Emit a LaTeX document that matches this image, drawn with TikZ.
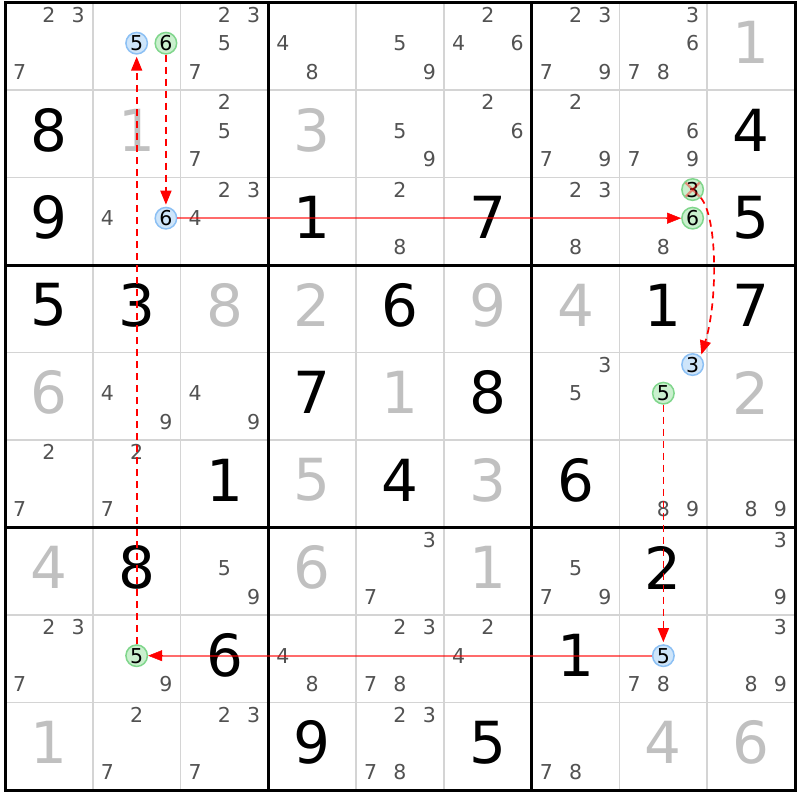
\documentclass[tikz,border=0pt]{standalone}
\usepackage{fontspec}
\setmainfont{DejaVu Sans}
\usetikzlibrary{arrows.meta,calc}
\definecolor{givengray}{RGB}{192,192,192}
\definecolor{candgray}{RGB}{82,82,82}
\definecolor{thingrid}{RGB}{212,212,212}
\definecolor{bluefill}{RGB}{206,229,250}
\definecolor{blueline}{RGB}{140,192,244}
\definecolor{greenfill}{RGB}{202,240,206}
\definecolor{greenline}{RGB}{128,214,140}
\definecolor{linkred}{RGB}{255,0,0}
\begin{document}
\begin{tikzpicture}[x=1pt,y=-1pt,
  thinline/.style={draw=thingrid, line width=1.6pt},
  thickline/.style={draw=black, line width=3pt},
  cand/.style={inner sep=0pt, text=candgray, font=\fontsize{20.5}{24}\selectfont},
  bigdigit/.style={inner sep=0pt, font=\fontsize{58}{64}\selectfont},
  givendigit/.style={bigdigit, text=givengray},
  solveddigit/.style={bigdigit, text=black},
  circbase/.style={circle, inner sep=0pt, minimum size=21.5pt, line width=1.5pt, text=black, font=\fontsize{20.5}{24}\selectfont},
  bluec/.style={circbase, draw=blueline, fill=bluefill},
  greenc/.style={circbase, draw=greenline, fill=greenfill},
  dashlink/.style={draw=linkred, line width=1.7pt, dash pattern=on 7pt off 5pt, shorten >=2pt, -{Triangle[length=14pt,width=11pt,fill=linkred]}},
  solidlink/.style={draw=linkred, draw opacity=0.58, line width=2.2pt, shorten >=6pt},
  solidtip/.style={draw=linkred, line width=0.5pt, -{Triangle[length=14pt,width=11pt,fill=linkred]}},
  crossline/.style={draw=linkred, draw opacity=0.4, line width=2.2pt}
]
\useasboundingbox (0,0) rectangle (800,800);
\fill[white] (0,0) rectangle (800,800);

% thin grid lines
\foreach \i in {1,2,4,5,7,8}{
  \draw[thinline] ({5+87.78*\i},2.5) -- ({5+87.78*\i},790);
  \draw[thinline] (5,{2.5+87.5*\i}) -- (795,{2.5+87.5*\i});
}
% thick grid lines
\foreach \i in {3,6}{
  \draw[thickline] ({5+87.78*\i},2.5) -- ({5+87.78*\i},790);
  \draw[thickline] (5,{2.5+87.5*\i}) -- (795,{2.5+87.5*\i});
}
\draw[thickline] (5,2.5) rectangle (795,790);

% candidates
\foreach \r/\c/\ds in {
  1/1/{2,3,7}, 1/3/{2,3,5,7}, 1/4/{4,8}, 1/5/{5,9}, 1/6/{2,4,6}, 1/7/{2,3,7,9}, 1/8/{3,6,7,8},
  2/3/{2,5,7}, 2/5/{5,9}, 2/6/{2,6}, 2/7/{2,7,9}, 2/8/{6,7,9},
  3/2/{4}, 3/3/{2,3,4}, 3/5/{2,8}, 3/7/{2,3,8}, 3/8/{8},
  5/2/{4,9}, 5/3/{4,9}, 5/7/{3,5},
  6/1/{2,7}, 6/2/{2,7}, 6/8/{8,9}, 6/9/{8,9},
  7/3/{5,9}, 7/5/{3,7}, 7/7/{5,7,9}, 7/9/{3,9},
  8/1/{2,3,7}, 8/2/{9}, 8/4/{4,8}, 8/5/{2,3,7,8}, 8/6/{2,4}, 8/8/{7,8}, 8/9/{3,8,9},
  9/2/{2,7}, 9/3/{2,3,7}, 9/5/{2,3,7,8}, 9/7/{7,8}}{
  \foreach \d in \ds {
    \pgfmathsetmacro\px{5+87.78*(\c-1+(2*mod(\d-1,3)+1)/6)}
    \pgfmathsetmacro\py{2.5+87.5*(\r-1+0.138+0.327*floor((\d-1)/3))}
    \node[cand] (k\r\c\d) at (\px,\py) {\d};
  }
}

% given digits (gray)
\foreach \r/\c/\v in {1/9/1, 2/2/1, 2/4/3, 4/3/8, 4/4/2, 4/6/9, 4/7/4, 5/1/6, 5/5/1, 5/9/2,
  6/4/5, 6/6/3, 7/1/4, 7/4/6, 7/6/1, 9/1/1, 9/8/4, 9/9/6}{
  \node[givendigit] (g\r\c) at ({5+87.78*(\c-0.5)},{2.5+87.5*(\r-1+0.457)}) {\v};
}
% solved digits (black)
\foreach \r/\c/\v in {2/1/8, 2/9/4, 3/1/9, 3/4/1, 3/6/7, 3/9/5, 4/1/5, 4/2/3, 4/5/6, 4/8/1, 4/9/7,
  5/4/7, 5/6/8, 6/3/1, 6/5/4, 6/7/6, 7/2/8, 7/8/2, 8/3/6, 8/7/1, 9/4/9, 9/6/5}{
  \node[solveddigit] (s\r\c) at ({5+87.78*(\c-0.5)},{2.5+87.5*(\r-1+0.457)}) {\v};
}

% highlighted candidates
\foreach \nm/\r/\c/\d/\st in {A/8/2/5/greenc, B/1/2/5/bluec, C/1/2/6/greenc, D/3/2/6/bluec,
  E/3/8/6/greenc, F/3/8/3/greenc, G/5/8/3/bluec, H/5/8/5/greenc, I/8/8/5/bluec}{
  \pgfmathsetmacro\px{5+87.78*(\c-1+(2*mod(\d-1,3)+1)/6)}
  \pgfmathsetmacro\py{2.5+87.5*(\r-1+0.138+0.327*floor((\d-1)/3))}
  \node[\st] (\nm) at (\px,\py) {\d};
}
% eliminated candidate cross
\draw[crossline] ([shift={(-7,-7)}]F.center) -- ([shift={(7,7)}]F.center);
\draw[crossline] ([shift={(-7,7)}]F.center) -- ([shift={(7,-7)}]F.center);

% links
\draw[dashlink] (A) -- (B);
\draw[dashlink] (C) -- (D);
\draw[dashlink] (F.south east) .. controls +(17,20) and +(17,-55) .. (G.north east);
\draw[dashlink] (H) -- (I);
\draw[solidlink] (D) -- (E);
\draw[solidtip] ([xshift=-15pt]E.west) -- (E.west);
\draw[solidlink] (I) -- (A);
\draw[solidtip] ([xshift=15pt]A.east) -- (A.east);
\end{tikzpicture}
\end{document}
